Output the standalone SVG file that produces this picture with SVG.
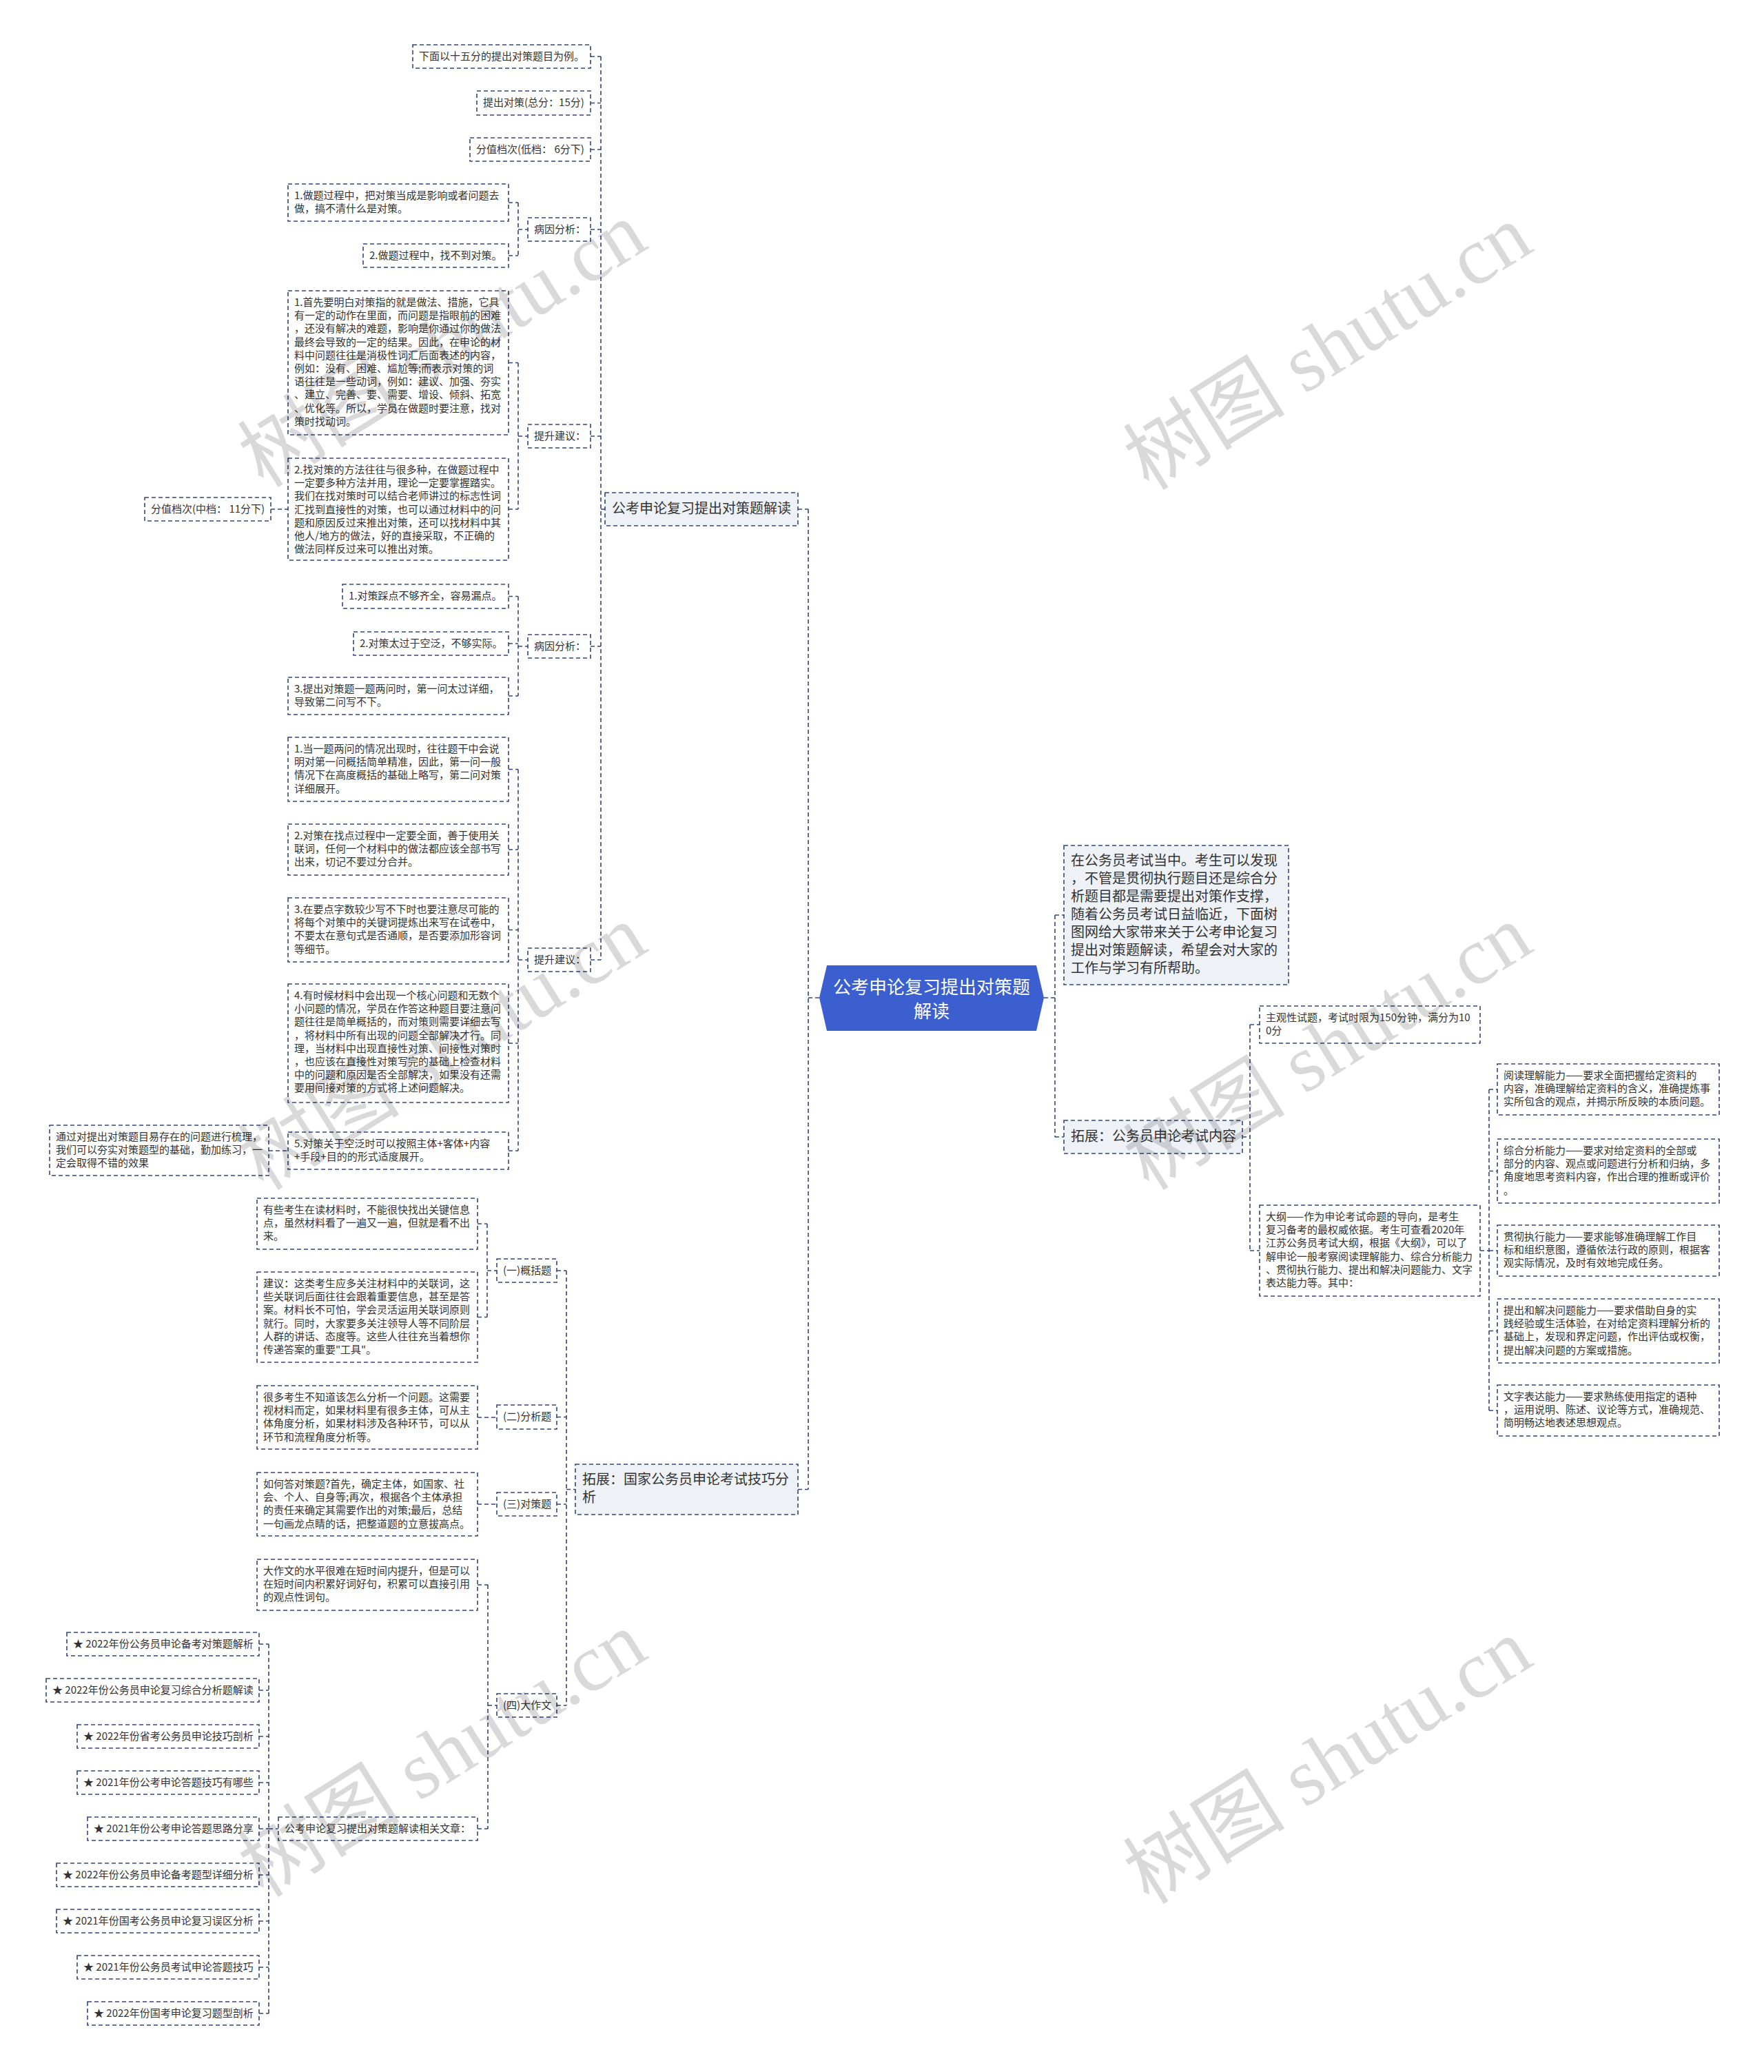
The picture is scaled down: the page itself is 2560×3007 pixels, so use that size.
<svg xmlns="http://www.w3.org/2000/svg" width="2560" height="3007" viewBox="0 0 2560 3007">
<style>
.nd rect{fill:#ffffff;stroke:#34467a;stroke-width:1.6;stroke-dasharray:6 4}
.l1 rect{fill:#eef1f6;stroke:#34467a;stroke-width:1.6;stroke-dasharray:6 4}
text{font-family:'Noto Sans CJK SC','Noto Sans',sans-serif;fill:#333333}
.s15{font-size:15px}
.s20{font-size:20px}
.rt{font-size:26px;fill:#ffffff}
#connectors path{fill:none;stroke:#34467a;stroke-width:1.6;stroke-dasharray:6 4}
.wm{font-family:'Liberation Serif','Noto Sans CJK SC',serif;font-size:118px;fill:#000000;fill-opacity:0.15}
</style>
<rect x="0" y="0" width="2560" height="3007" fill="#ffffff"/>
<g id="connectors">
<path d="M857,82H872M857,149.5H872M857,217H872M857,333H872M857,633H872M857,938H872M857,1393H872M872,82V1393M872,739H878"/>
<path d="M738,294H752M738,371H752M752,294V371M752,333H766"/>
<path d="M738,526.5H752M738,739H752M752,526.5V739M752,633H766M393,739H418"/>
<path d="M738,865.5H752M738,934H752M738,1010H752M752,865.5V1010M752,938H766"/>
<path d="M738,1116.5H752M738,1233H752M738,1349.5H752M738,1514H752M738,1670H752M752,1116.5V1670M752,1393H766M390,1670H418"/>
<path d="M1158,739H1173M1158,2161.5H1173M1173,739V2161.5M1173,1448H1189"/>
<path d="M808,1844H822M808,2056.5H822M808,2183H822M808,2475H822M822,1844V2475M822,2161.5H835"/>
<path d="M693,1776H707M693,1911.5H707M707,1776V1911.5M707,1844H721M693,2057H721M693,2183H721"/>
<path d="M693,2300H708M693,2654H708M708,2300V2654M708,2475H721"/>
<path d="M376,2386H390M376,2453H390M376,2520H390M376,2587H390M376,2654H390M376,2721H390M376,2788H390M376,2855H390M376,2922H390M390,2386V2922M390,2654H404"/>
<path d="M1515,1448H1531M1531,1328V1650M1531,1328H1544M1531,1650H1544"/>
<path d="M1803,1650H1814M1814,1487V1815M1814,1487H1828M1814,1815H1828"/>
<path d="M2148,1815H2161M2161,1581V2047M2161,1581H2173M2161,1699.5H2173M2161,1815H2173M2161,1931.5H2173M2161,2047H2173"/>
</g>
<g id="root">
<polygon points="1189,1448 1200,1401 1504,1401 1515,1448 1504,1496 1200,1496" fill="#3b5fcf"/>
<text class="rt" x="1352" y="1442" text-anchor="middle">公考申论复习提出对策题</text>
<text class="rt" x="1352" y="1477" text-anchor="middle">解读</text>
</g>
<g id="b1" class="l1"><rect x="878" y="715" width="280" height="48"/><text class="s20" x="888" y="745">公考申论复习提出对策题解读</text></g>
<g id="a1" class="nd"><rect x="599" y="65" width="258" height="34"/><text class="s15" x="608" y="87">下面以十五分的提出对策题目为例。</text></g>
<g id="a2" class="nd"><rect x="692" y="132" width="165" height="35"/><text class="s15" x="701" y="154">提出对策(总分：15分)</text></g>
<g id="a3" class="nd"><rect x="682" y="200" width="175" height="34"/><text class="s15" x="691" y="222">分值档次(低档： 6分下)</text></g>
<g id="a4" class="nd"><rect x="766" y="316" width="91" height="34"/><text class="s15" x="775" y="338">病因分析：</text></g>
<g id="a4a" class="nd"><rect x="418" y="267" width="320" height="54"/><text class="s15" x="427" y="289"><tspan x="427">1.做题过程中，把对策当成是影响或者问题去</tspan><tspan x="427" dy="19.2">做，搞不清什么是对策。</tspan></text></g>
<g id="a4b" class="nd"><rect x="527" y="354" width="211" height="34"/><text class="s15" x="536" y="376">2.做题过程中，找不到对策。</text></g>
<g id="a5" class="nd"><rect x="766" y="616" width="91" height="34"/><text class="s15" x="775" y="638">提升建议：</text></g>
<g id="a5a" class="nd"><rect x="418" y="422" width="320" height="209"/><text class="s15" x="427" y="444"><tspan x="427">1.首先要明白对策指的就是做法、措施，它具</tspan><tspan x="427" dy="19.2">有一定的动作在里面，而问题是指眼前的困难</tspan><tspan x="427" dy="19.2">，还没有解决的难题，影响是你通过你的做法</tspan><tspan x="427" dy="19.2">最终会导致的一定的结果。因此，在申论的材</tspan><tspan x="427" dy="19.2">料中问题往往是消极性词汇后面表述的内容，</tspan><tspan x="427" dy="19.2">例如：没有、困难、尴尬等;而表示对策的词</tspan><tspan x="427" dy="19.2">语往往是一些动词，例如：建议、加强、夯实</tspan><tspan x="427" dy="19.2">、建立、完善、要、需要、增设、倾斜、拓宽</tspan><tspan x="427" dy="19.2">、优化等。所以，学员在做题时要注意，找对</tspan><tspan x="427" dy="19.2">策时找动词。</tspan></text></g>
<g id="a5b" class="nd"><rect x="418" y="665" width="320" height="148"/><text class="s15" x="427" y="687"><tspan x="427">2.找对策的方法往往与很多种，在做题过程中</tspan><tspan x="427" dy="19.2">一定要多种方法并用，理论一定要掌握踏实。</tspan><tspan x="427" dy="19.2">我们在找对策时可以结合老师讲过的标志性词</tspan><tspan x="427" dy="19.2">汇找到直接性的对策，也可以通过材料中的问</tspan><tspan x="427" dy="19.2">题和原因反过来推出对策，还可以找材料中其</tspan><tspan x="427" dy="19.2">他人/地方的做法，好的直接采取，不正确的</tspan><tspan x="427" dy="19.2">做法同样反过来可以推出对策。</tspan></text></g>
<g id="a5b1" class="nd"><rect x="210" y="722" width="183" height="34"/><text class="s15" x="219" y="744">分值档次(中档： 11分下)</text></g>
<g id="a6" class="nd"><rect x="766" y="921" width="91" height="34"/><text class="s15" x="775" y="943">病因分析：</text></g>
<g id="a6a" class="nd"><rect x="497" y="848" width="241" height="35"/><text class="s15" x="506" y="870">1.对策踩点不够齐全，容易漏点。</text></g>
<g id="a6b" class="nd"><rect x="513" y="917" width="225" height="34"/><text class="s15" x="522" y="939">2.对策太过于空泛，不够实际。</text></g>
<g id="a6c" class="nd"><rect x="418" y="983" width="320" height="54"/><text class="s15" x="427" y="1005"><tspan x="427">3.提出对策题一题两问时，第一问太过详细，</tspan><tspan x="427" dy="19.2">导致第二问写不下。</tspan></text></g>
<g id="a7" class="nd"><rect x="766" y="1376" width="91" height="34"/><text class="s15" x="775" y="1398">提升建议：</text></g>
<g id="a7a" class="nd"><rect x="418" y="1070" width="320" height="93"/><text class="s15" x="427" y="1092"><tspan x="427">1.当一题两问的情况出现时，往往题干中会说</tspan><tspan x="427" dy="19.2">明对第一问概括简单精准，因此，第一问一般</tspan><tspan x="427" dy="19.2">情况下在高度概括的基础上略写，第二问对策</tspan><tspan x="427" dy="19.2">详细展开。</tspan></text></g>
<g id="a7b" class="nd"><rect x="418" y="1196" width="320" height="74"/><text class="s15" x="427" y="1218"><tspan x="427">2.对策在找点过程中一定要全面，善于使用关</tspan><tspan x="427" dy="19.2">联词，任何一个材料中的做法都应该全部书写</tspan><tspan x="427" dy="19.2">出来，切记不要过分合并。</tspan></text></g>
<g id="a7c" class="nd"><rect x="418" y="1303" width="320" height="93"/><text class="s15" x="427" y="1325"><tspan x="427">3.在要点字数较少写不下时也要注意尽可能的</tspan><tspan x="427" dy="19.2">将每个对策中的关键词提炼出来写在试卷中，</tspan><tspan x="427" dy="19.2">不要太在意句式是否通顺，是否要添加形容词</tspan><tspan x="427" dy="19.2">等细节。</tspan></text></g>
<g id="a7d" class="nd"><rect x="418" y="1428" width="320" height="172"/><text class="s15" x="427" y="1450"><tspan x="427">4.有时候材料中会出现一个核心问题和无数个</tspan><tspan x="427" dy="19.2">小问题的情况，学员在作答这种题目要注意问</tspan><tspan x="427" dy="19.2">题往往是简单概括的，而对策则需要详细去写</tspan><tspan x="427" dy="19.2">，将材料中所有出现的问题全部解决才行。同</tspan><tspan x="427" dy="19.2">理，当材料中出现直接性对策、间接性对策时</tspan><tspan x="427" dy="19.2">，也应该在直接性对策写完的基础上检查材料</tspan><tspan x="427" dy="19.2">中的问题和原因是否全部解决，如果没有还需</tspan><tspan x="427" dy="19.2">要用间接对策的方式将上述问题解决。</tspan></text></g>
<g id="a7e" class="nd"><rect x="418" y="1643" width="320" height="54"/><text class="s15" x="427" y="1665"><tspan x="427">5.对策关于空泛时可以按照主体+客体+内容</tspan><tspan x="427" dy="19.2">+手段+目的的形式适度展开。</tspan></text></g>
<g id="a7e1" class="nd"><rect x="72" y="1633" width="318" height="73"/><text class="s15" x="81" y="1655"><tspan x="81">通过对提出对策题目易存在的问题进行梳理，</tspan><tspan x="81" dy="19.2">我们可以夯实对策题型的基础，勤加练习，一</tspan><tspan x="81" dy="19.2">定会取得不错的效果</tspan></text></g>
<g id="b2" class="l1"><rect x="835" y="2125" width="323" height="73"/><text class="s20" x="845" y="2154"><tspan x="845">拓展：国家公务员申论考试技巧分</tspan><tspan x="845" dy="26">析</tspan></text></g>
<g id="c1" class="nd"><rect x="721" y="1827" width="87" height="34"/><text class="s15" x="730" y="1849">(一)概括题</text></g>
<g id="c2" class="nd"><rect x="721" y="2039" width="87" height="35"/><text class="s15" x="730" y="2061">(二)分析题</text></g>
<g id="c3" class="nd"><rect x="721" y="2166" width="87" height="34"/><text class="s15" x="730" y="2188">(三)对策题</text></g>
<g id="c4" class="nd"><rect x="721" y="2458" width="87" height="34"/><text class="s15" x="730" y="2480">(四)大作文</text></g>
<g id="c1a" class="nd"><rect x="373" y="1739" width="320" height="74"/><text class="s15" x="382" y="1761"><tspan x="382">有些考生在读材料时，不能很快找出关键信息</tspan><tspan x="382" dy="19.2">点，虽然材料看了一遍又一遍，但就是看不出</tspan><tspan x="382" dy="19.2">来。</tspan></text></g>
<g id="c1b" class="nd"><rect x="373" y="1846" width="320" height="131"/><text class="s15" x="382" y="1868"><tspan x="382">建议：这类考生应多关注材料中的关联词，这</tspan><tspan x="382" dy="19.2">些关联词后面往往会跟着重要信息，甚至是答</tspan><tspan x="382" dy="19.2">案。材料长不可怕，学会灵活运用关联词原则</tspan><tspan x="382" dy="19.2">就行。同时，大家要多关注领导人等不同阶层</tspan><tspan x="382" dy="19.2">人群的讲话、态度等。这些人往往充当着想你</tspan><tspan x="382" dy="19.2">传递答案的重要"工具"。</tspan></text></g>
<g id="c2a" class="nd"><rect x="373" y="2011" width="320" height="92"/><text class="s15" x="382" y="2033"><tspan x="382">很多考生不知道该怎么分析一个问题。这需要</tspan><tspan x="382" dy="19.2">视材料而定，如果材料里有很多主体，可从主</tspan><tspan x="382" dy="19.2">体角度分析，如果材料涉及各种环节，可以从</tspan><tspan x="382" dy="19.2">环节和流程角度分析等。</tspan></text></g>
<g id="c3a" class="nd"><rect x="373" y="2137" width="320" height="92"/><text class="s15" x="382" y="2159"><tspan x="382">如何答对策题?首先，确定主体，如国家、社</tspan><tspan x="382" dy="19.2">会、个人、自身等;再次，根据各个主体承担</tspan><tspan x="382" dy="19.2">的责任来确定其需要作出的对策;最后，总结</tspan><tspan x="382" dy="19.2">一句画龙点睛的话，把整道题的立意拔高点。</tspan></text></g>
<g id="c4a" class="nd"><rect x="373" y="2263" width="320" height="74"/><text class="s15" x="382" y="2285"><tspan x="382">大作文的水平很难在短时间内提升，但是可以</tspan><tspan x="382" dy="19.2">在短时间内积累好词好句，积累可以直接引用</tspan><tspan x="382" dy="19.2">的观点性词句。</tspan></text></g>
<g id="c4b" class="nd"><rect x="404" y="2637" width="289" height="34"/><text class="s15" x="413" y="2659">公考申论复习提出对策题解读相关文章：</text></g>
<g id="s1" class="nd"><rect x="97" y="2369" width="279" height="34"/><text class="s15" x="106" y="2391">★ 2022年份公务员申论备考对策题解析</text></g>
<g id="s2" class="nd"><rect x="67" y="2436" width="309" height="34"/><text class="s15" x="76" y="2458">★ 2022年份公务员申论复习综合分析题解读</text></g>
<g id="s3" class="nd"><rect x="112" y="2503" width="264" height="34"/><text class="s15" x="121" y="2525">★ 2022年份省考公务员申论技巧剖析</text></g>
<g id="s4" class="nd"><rect x="112" y="2570" width="264" height="34"/><text class="s15" x="121" y="2592">★ 2021年份公考申论答题技巧有哪些</text></g>
<g id="s5" class="nd"><rect x="127" y="2637" width="249" height="34"/><text class="s15" x="136" y="2659">★ 2021年份公考申论答题思路分享</text></g>
<g id="s6" class="nd"><rect x="82" y="2704" width="294" height="34"/><text class="s15" x="91" y="2726">★ 2022年份公务员申论备考题型详细分析</text></g>
<g id="s7" class="nd"><rect x="82" y="2771" width="294" height="34"/><text class="s15" x="91" y="2793">★ 2021年份国考公务员申论复习误区分析</text></g>
<g id="s8" class="nd"><rect x="112" y="2838" width="264" height="34"/><text class="s15" x="121" y="2860">★ 2021年份公务员考试申论答题技巧</text></g>
<g id="s9" class="nd"><rect x="127" y="2905" width="249" height="34"/><text class="s15" x="136" y="2927">★ 2022年份国考申论复习题型剖析</text></g>
<g id="r1" class="l1"><rect x="1544" y="1227" width="326" height="202"/><text class="s20" x="1554" y="1256"><tspan x="1554">在公务员考试当中。考生可以发现</tspan><tspan x="1554" dy="26">，不管是贯彻执行题目还是综合分</tspan><tspan x="1554" dy="26">析题目都是需要提出对策作支撑，</tspan><tspan x="1554" dy="26">随着公务员考试日益临近，下面树</tspan><tspan x="1554" dy="26">图网给大家带来关于公考申论复习</tspan><tspan x="1554" dy="26">提出对策题解读，希望会对大家的</tspan><tspan x="1554" dy="26">工作与学习有所帮助。</tspan></text></g>
<g id="r2" class="l1"><rect x="1544" y="1626" width="259" height="48"/><text class="s20" x="1554" y="1656">拓展：公务员申论考试内容</text></g>
<g id="r2a" class="nd"><rect x="1828" y="1460" width="320" height="54"/><text class="s15" x="1837" y="1482"><tspan x="1837">主观性试题，考试时限为150分钟，满分为10</tspan><tspan x="1837" dy="19.2">0分</tspan></text></g>
<g id="r2b" class="nd"><rect x="1828" y="1749" width="320" height="132"/><text class="s15" x="1837" y="1771"><tspan x="1837">大纲——作为申论考试命题的导向，是考生</tspan><tspan x="1837" dy="19.2">复习备考的最权威依据。考生可查看2020年</tspan><tspan x="1837" dy="19.2">江苏公务员考试大纲，根据《大纲》，可以了</tspan><tspan x="1837" dy="19.2">解申论一般考察阅读理解能力、综合分析能力</tspan><tspan x="1837" dy="19.2">、贯彻执行能力、提出和解决问题能力、文字</tspan><tspan x="1837" dy="19.2">表达能力等。其中：</tspan></text></g>
<g id="k1" class="nd"><rect x="2173" y="1544" width="322" height="74"/><text class="s15" x="2182" y="1566"><tspan x="2182">阅读理解能力——要求全面把握给定资料的</tspan><tspan x="2182" dy="19.2">内容，准确理解给定资料的含义，准确提炼事</tspan><tspan x="2182" dy="19.2">实所包含的观点，并揭示所反映的本质问题。</tspan></text></g>
<g id="k2" class="nd"><rect x="2173" y="1653" width="322" height="93"/><text class="s15" x="2182" y="1675"><tspan x="2182">综合分析能力——要求对给定资料的全部或</tspan><tspan x="2182" dy="19.2">部分的内容、观点或问题进行分析和归纳，多</tspan><tspan x="2182" dy="19.2">角度地思考资料内容，作出合理的推断或评价</tspan><tspan x="2182" dy="19.2">。</tspan></text></g>
<g id="k3" class="nd"><rect x="2173" y="1778" width="322" height="74"/><text class="s15" x="2182" y="1800"><tspan x="2182">贯彻执行能力——要求能够准确理解工作目</tspan><tspan x="2182" dy="19.2">标和组织意图，遵循依法行政的原则，根据客</tspan><tspan x="2182" dy="19.2">观实际情况，及时有效地完成任务。</tspan></text></g>
<g id="k4" class="nd"><rect x="2173" y="1885" width="322" height="93"/><text class="s15" x="2182" y="1907"><tspan x="2182">提出和解决问题能力——要求借助自身的实</tspan><tspan x="2182" dy="19.2">践经验或生活体验，在对给定资料理解分析的</tspan><tspan x="2182" dy="19.2">基础上，发现和界定问题，作出评估或权衡，</tspan><tspan x="2182" dy="19.2">提出解决问题的方案或措施。</tspan></text></g>
<g id="k5" class="nd"><rect x="2173" y="2010" width="322" height="74"/><text class="s15" x="2182" y="2032"><tspan x="2182">文字表达能力——要求熟练使用指定的语种</tspan><tspan x="2182" dy="19.2">，运用说明、陈述、议论等方式，准确规范、</tspan><tspan x="2182" dy="19.2">简明畅达地表述思想观点。</tspan></text></g>
<g id="watermark">
<text class="wm" transform="translate(642,500) rotate(-32)" x="0" y="40" text-anchor="middle">树图 shutu.cn</text>
<text class="wm" transform="translate(1927,504) rotate(-32)" x="0" y="40" text-anchor="middle">树图 shutu.cn</text>
<text class="wm" transform="translate(642,1520) rotate(-32)" x="0" y="40" text-anchor="middle">树图 shutu.cn</text>
<text class="wm" transform="translate(1927,1520) rotate(-32)" x="0" y="40" text-anchor="middle">树图 shutu.cn</text>
<text class="wm" transform="translate(642,2546) rotate(-32)" x="0" y="40" text-anchor="middle">树图 shutu.cn</text>
<text class="wm" transform="translate(1927,2556) rotate(-32)" x="0" y="40" text-anchor="middle">树图 shutu.cn</text>
</g>
</svg>
